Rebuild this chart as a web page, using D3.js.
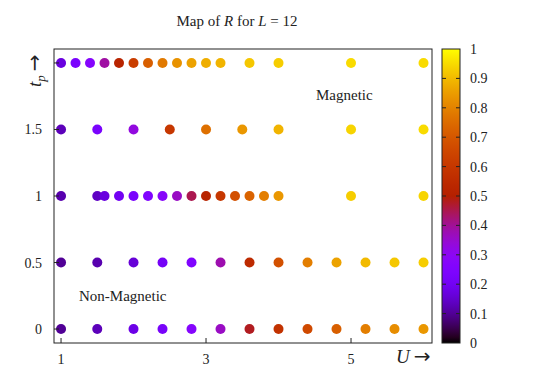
<!DOCTYPE html>
<html>
<head>
<meta charset="utf-8">
<script src="https://cdn.jsdelivr.net/npm/d3@7"></script>
<style>
  body { margin: 0; background: #fff; }
  text { font-family: "Liberation Serif", "DejaVu Serif", serif; fill: #222; }
</style>
</head>
<body>
<svg id="chart" width="538" height="377"></svg>
<script>
// rows of the map: t_p value, U values, R values
var row0U = [1, 1.5, 2, 2.4, 2.8, 3.2, 3.6, 4.0, 4.4, 4.8, 5.2, 5.6, 6.0];
var row0R = [0.10, 0.13, 0.18, 0.22, 0.27, 0.36, 0.48, 0.58, 0.66, 0.72, 0.79, 0.82, 0.84];

var row05U = [1, 1.5, 2, 2.4, 2.8, 3.2, 3.6, 4.0, 4.4, 4.8, 5.2, 5.6, 6.0];
var row05R = [0.10, 0.12, 0.16, 0.21, 0.25, 0.38, 0.55, 0.68, 0.79, 0.86, 0.90, 0.92, 0.93];

var row1U = [1, 1.5, 1.6, 1.8, 2.0, 2.2, 2.4, 2.6, 2.8, 3.0, 3.2, 3.4, 3.6, 3.8, 4.0, 5, 6];
var row1R = [0.12, 0.14, 0.17, 0.20, 0.23, 0.25, 0.28, 0.36, 0.45, 0.52, 0.60, 0.68, 0.73, 0.79, 0.84, 0.93, 0.94];

var row15U = [1, 1.5, 2, 2.5, 3, 3.5, 4, 5, 6];
var row15R = [0.13, 0.23, 0.33, 0.60, 0.76, 0.84, 0.89, 0.94, 0.95];

var row2U = [1, 1.2, 1.4, 1.6, 1.8, 2.0, 2.2, 2.4, 2.6, 2.8, 3.0, 3.2, 3.6, 4.0, 5, 6];
var row2R = [0.17, 0.23, 0.27, 0.39, 0.52, 0.62, 0.72, 0.78, 0.83, 0.86, 0.88, 0.89, 0.92, 0.93, 0.95, 0.95];

var rows = [
  {t: 0, U: row0U, R: row0R},
  {t: 0.5, U: row05U, R: row05R},
  {t: 1, U: row1U, R: row1R},
  {t: 1.5, U: row15U, R: row15R},
  {t: 2, U: row2U, R: row2R}
];

var xTicks = [1, 3, 5];
var yTicks = [0, 0.5, 1, 1.5, 2];
var yTickLabels = ["0", "0.5", "1", "1.5", ""];
var cbTicks = [0, 0.1, 0.2, 0.3, 0.4, 0.5, 0.6, 0.7, 0.8, 0.9, 1];

// gnuplot default pm3d palette (rgbformulae 7,5,15)
function palette(v) {
  var r = Math.sqrt(v), g = v * v * v, b = Math.sin(2 * Math.PI * v);
  r = Math.max(0, Math.min(1, r));
  b = Math.max(0, Math.min(1, b));
  return d3.rgb(r * 255, g * 255, b * 255).toString();
}

function drawChart() {
  var svg = d3.select('#chart');
  var pl = 54, pr = 432, pt = 49, pb = 343;

  var x = d3.scaleLinear().domain([0.903, 6.117]).range([pl, pr]);
  var y = d3.scaleLinear().domain([-0.105, 2.105]).range([pb, pt]);

  // points
  rows.forEach(function(row) {
    var pts = row.U.map(function(u, i) { return {u: u, r: row.R[i], t: row.t}; });
    svg.append('g').selectAll('circle')
      .data(pts)
      .enter().append('circle')
      .attr('cx', function(d) { return x(d.u); })
      .attr('cy', function(d) { return y(d.t); })
      .attr('r', 5)
      .style('fill', function(d) { return palette(d.r); });
  });

  // frame
  svg.append('rect')
    .attr('x', pl).attr('y', pt)
    .attr('width', pr - pl).attr('height', pb - pt)
    .style('fill', 'none').style('stroke', '#222').style('stroke-width', 1);

  // x ticks (inward) and labels
  var xg = svg.append('g');
  xTicks.forEach(function(t) {
    xg.append('line')
      .attr('x1', x(t)).attr('x2', x(t))
      .attr('y1', pb).attr('y2', pb - 5)
      .style('stroke', '#222');
    xg.append('text')
      .attr('x', x(t)).attr('y', pb + 21)
      .attr('text-anchor', 'middle')
      .style('font-size', '14px')
      .text(t);
  });

  // y ticks and labels
  var yg = svg.append('g');
  yTicks.forEach(function(t, i) {
    yg.append('line')
      .attr('x1', pl).attr('x2', pl + 5)
      .attr('y1', y(t)).attr('y2', y(t))
      .style('stroke', '#222');
    yg.append('text')
      .attr('x', pl - 12).attr('y', y(t) + 5)
      .attr('text-anchor', 'end')
      .style('font-size', '14px')
      .text(yTickLabels[i]);
  });

  // title
  var title = svg.append('text')
    .attr('x', 237).attr('y', 26)
    .attr('text-anchor', 'middle')
    .style('font-size', '15px');
  title.append('tspan').text('Map of ');
  title.append('tspan').style('font-style', 'italic').text('R');
  title.append('tspan').text(' for ');
  title.append('tspan').style('font-style', 'italic').text('L');
  title.append('tspan').text(' = 12');

  // axis labels
  var xl = svg.append('text')
    .attr('x', 396).attr('y', 363)
    .style('font-size', '19px');
  xl.append('tspan').style('font-style', 'italic').text('U');
  xl.append('tspan').style('font-family', 'DejaVu Sans').style('font-size', '20px').attr('dx', 4).text('\u2192');

  var yl = svg.append('text')
    .attr('transform', 'translate(41,87) rotate(-90)')
    .style('font-size', '19px');
  yl.append('tspan').style('font-style', 'italic').text('t');
  yl.append('tspan').style('font-style', 'italic').style('font-size', '13px').attr('dy', 4).text('p');
  yl.append('tspan').style('font-family', 'DejaVu Sans').style('font-size', '20px').attr('dy', -4).attr('dx', 4).text('\u2192');

  // region labels
  svg.append('text').attr('x', 316).attr('y', 100)
    .style('font-size', '15px').text('Magnetic');
  svg.append('text').attr('x', 79).attr('y', 301)
    .style('font-size', '15px').text('Non-Magnetic');

  // colorbar
  var cbX = 442, cbW = 18;
  var cy = d3.scaleLinear().domain([0, 1]).range([pb, pt]);
  var defs = svg.append('defs');
  var grad = defs.append('linearGradient').attr('id', 'cbgrad')
    .attr('x1', 0).attr('y1', 1).attr('x2', 0).attr('y2', 0);
  d3.range(0, 1.0001, 0.02).forEach(function(v) {
    grad.append('stop').attr('offset', v).attr('stop-color', palette(v));
  });
  svg.append('rect')
    .attr('x', cbX).attr('y', pt)
    .attr('width', cbW).attr('height', pb - pt)
    .style('fill', 'url(#cbgrad)')
    .style('stroke', '#222').style('stroke-width', 1);

  var cbg = svg.append('g');
  cbTicks.forEach(function(t) {
    if (t > 0 && t < 1) {
      cbg.append('line')
        .attr('x1', cbX).attr('x2', cbX + 4)
        .attr('y1', cy(t)).attr('y2', cy(t))
        .style('stroke', '#222');
      cbg.append('line')
        .attr('x1', cbX + cbW - 4).attr('x2', cbX + cbW)
        .attr('y1', cy(t)).attr('y2', cy(t))
        .style('stroke', '#222');
    }
    cbg.append('text')
      .attr('x', cbX + cbW + 10).attr('y', cy(t) + 5)
      .style('font-size', '14px')
      .text(t);
  });
}

drawChart();
</script>
</body>
</html>
